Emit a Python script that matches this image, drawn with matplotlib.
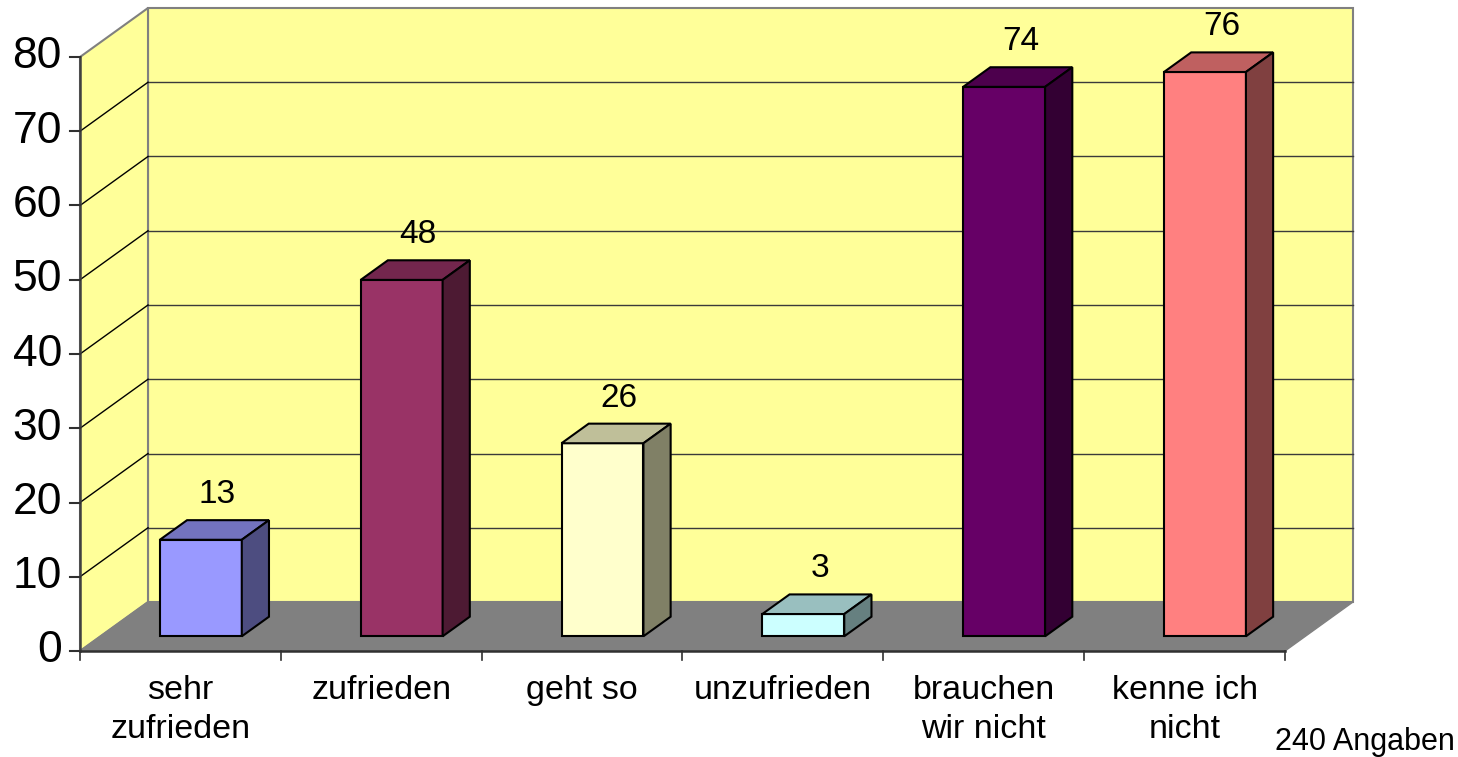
import matplotlib.pyplot as plt
from matplotlib.patches import Polygon

plt.rcParams['font.family'] = ['Liberation Sans', 'DejaVu Sans']

# Data
categories = ["sehr\nzufrieden", "zufrieden", "geht so", "unzufrieden",
              "brauchen\nwir nicht", "kenne ich\nnicht"]
values = [13, 48, 26, 3, 74, 76]
y_ticks = [0, 10, 20, 30, 40, 50, 60, 70, 80]
note = "240 Angaben"

bar_colors = ["#9999FF", "#993366", "#FFFFCC", "#CCFFFF", "#660066", "#FF8080"]

# ------------------------------------
# fake 3D geometry (in data units)
# ------------------------------------
px_x = 200.83          # pixels per category
px_y = 7.425           # pixels per value unit
ddx = 68 / px_x        # depth offset in x
ddy = 49 / px_y        # depth offset in y
d0, d1 = 0.3, 0.7      # bar front / back depth
bw = 0.408             # bar width
n = len(values)
ymax = y_ticks[-1]


def shade(c, f):
    c = c.lstrip("#")
    r, g, b = [int(c[i:i + 2], 16) / 255 for i in (0, 2, 4)]
    return (r * f, g * f, b * f)


fig = plt.figure(figsize=(14.58, 7.57), dpi=100)
ax = fig.add_axes([0, 0, 1, 1])
ax.set_xlim(-80 / px_x, (1458 - 80) / px_x)
ax.set_ylim((651 - 757) / px_y, 651 / px_y)
ax.axis("off")

wall = "#FFFF99"
edge_grey = "#808080"

# back wall
ax.add_patch(Polygon([(ddx, ddy), (n + ddx, ddy), (n + ddx, ymax + ddy), (ddx, ymax + ddy)],
                     closed=True, fc=wall, ec=edge_grey, lw=1.5, zorder=1))
# left wall
ax.add_patch(Polygon([(0, 0), (ddx, ddy), (ddx, ymax + ddy), (0, ymax)],
                     closed=True, fc=wall, ec=edge_grey, lw=1.5, zorder=1))
# floor
ax.add_patch(Polygon([(0, 0), (n, 0), (n + ddx, ddy), (ddx, ddy)],
                     closed=True, fc="#808080", ec=edge_grey, lw=1.0, zorder=2))

# gridlines
for v in y_ticks[1:-1]:
    ax.plot([ddx, n + ddx], [v + ddy, v + ddy], color="#3a3a3a", lw=1.0, zorder=1.5)
    ax.plot([0, ddx], [v, v + ddy], color="black", lw=1.0, zorder=1.5)

# axes lines
ax.plot([0, 0], [0, ymax], color="#404040", lw=1.8, zorder=3)
ax.plot([0, n], [0, 0], color="#303030", lw=1.8, zorder=3)
for v in y_ticks:
    ax.plot([-10 / px_x, 0], [v, v], color="#303030", lw=1.5, zorder=3)
    ax.text(-18 / px_x, v, str(v), ha="right", va="center", fontsize=32, zorder=4)
for i in range(n + 1):
    ax.plot([i, i], [0, -9 / px_y], color="#303030", lw=1.2, zorder=3)

# ------------------------------------
# bars
# ------------------------------------
for i, (v, c) in enumerate(zip(values, bar_colors)):
    xl = i + 0.5 - bw / 2 + d0 * ddx
    xr = xl + bw
    yb = d0 * ddy
    yt = v + d0 * ddy
    dx = (d1 - d0) * ddx
    dy = (d1 - d0) * ddy
    front = [(xl, yb), (xr, yb), (xr, yt), (xl, yt)]
    top = [(xl, yt), (xr, yt), (xr + dx, yt + dy), (xl + dx, yt + dy)]
    side = [(xr, yb), (xr + dx, yb + dy), (xr + dx, yt + dy), (xr, yt)]
    ax.add_patch(Polygon(front, closed=True, fc=c, ec="black", lw=1.5, zorder=5))
    ax.add_patch(Polygon(top, closed=True, fc=shade(c, 0.75), ec="black", lw=1.5, zorder=5))
    ax.add_patch(Polygon(side, closed=True, fc=shade(c, 0.5), ec="black", lw=1.5, zorder=5))
    ax.text(i + 0.5 + 0.5 * (d0 + d1) * ddx + 3 / px_x, v + d1 * ddy + 17 / px_y, str(v),
            ha="center", va="baseline", fontsize=24, zorder=6)

# category labels
for i, lab in enumerate(categories):
    ax.text(i + 0.5, (651 - 675) / px_y, lab, ha="center", va="top",
            fontsize=24.5, linespacing=1.32, multialignment="center")

ax.text((1275 - 80) / px_x, (651 - 750) / px_y, note, ha="left", va="baseline", fontsize=22)

fig.savefig("out.png", dpi=100)
